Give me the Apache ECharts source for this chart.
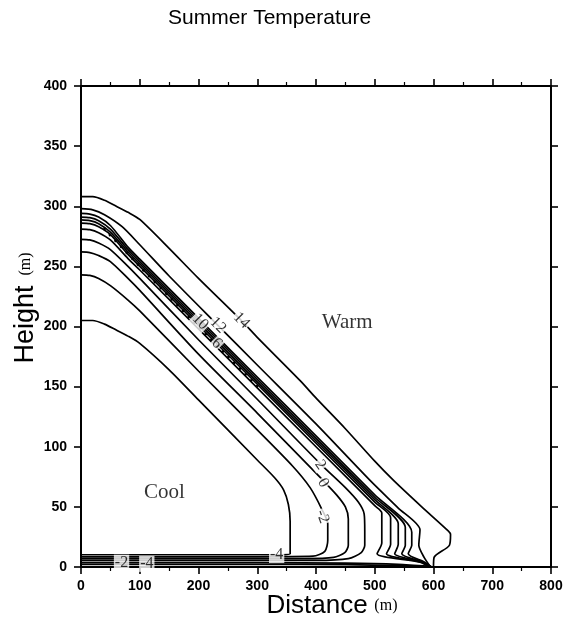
<!DOCTYPE html>
<html><head><meta charset="utf-8">
<script src="https://cdn.jsdelivr.net/npm/echarts@6/dist/echarts.min.js"></script>
<style>html,body{margin:0;padding:0;background:#fff}#c{width:566px;height:630px}</style>
</head><body><div id="c"></div>
<script>
const chartTitle = 'Summer Temperature';
const xTicks = [0, 100, 200, 300, 400, 500, 600, 700, 800];
const yTicks = [0, 50, 100, 150, 200, 250, 300, 350, 400];

// contour lines: [distance (m), height (m)]
const c14 = [[0,308],[20,308],[40,305],[60,300],[80,295],[100,289],[150,265],[200,240],[273,205],[300,191],[373,155],[401,140],[450,115],[500,88],[532,72],[580,50],[625,30],[629,27],[627,18],[601,8],[600,0]];
const c12 = [[0,298],[20,297],[40,293],[70,283],[100,268],[150,242],[233,201],[300,168],[400,119],[492,72],[540,49],[577,31],[575,18],[584,8],[595,0]];
const c10 = [[0,294],[15,293.5],[30,291],[50,284],[80,266],[100,256],[200,207],[300,158],[400,109],[500,60],[563,29],[563,18],[557,11],[585,4],[597,0]];
const c8 = [[0,291],[15,290.5],[30,288],[50,281],[80,264],[100,254],[200,205],[300,156],[400,107],[500,58],[552,33],[552,18],[546,11],[583,4],[596,0]];
const c6 = [[0,288.6],[15,288],[30,285.5],[50,278.5],[80,262],[100,252],[200,203],[300,154],[400,105],[500,56],[540,36],[540,19],[534,11],[581,4],[595,0]];
const c4 = [[0,286],[15,285.5],[30,283],[50,276.5],[80,260],[100,250],[200,201],[300,152],[400,103],[500,54],[527,41],[527,19],[520,11],[579,4],[594,0]];
const c3 = [[0,281],[15,280.5],[30,278],[50,272],[80,256.5],[100,247],[200,198],[300,149],[400,100],[500,51],[512,45],[512,20],[504,11],[577,4],[593,0]];
const c2 = [[0,272.5],[15,272],[30,269.5],[50,264],[80,250],[100,240],[200,189],[300,139.5],[407,86],[450,66],[472,54],[482,44],[483,30],[483,18],[477,12],[455,7],[400,5.5],[300,5.5],[0,5.5]];
const c0 = [[0,262],[15,261.5],[30,259],[50,254],[80,240],[100,230],[200,177],[300,128],[410,73],[435,60],[450,50],[455,40],[455,18],[449,12],[430,8],[380,7],[200,7],[0,7]];
const cm2 = [[0,243],[15,242.5],[30,240],[50,234],[80,222],[100,213],[200,163],[300,114],[360,84],[390,66],[410,48],[420,36],[420,22],[415,13],[395,9],[300,8.5],[0,8.5]];
const cm4 = [[0,205],[20,205],[40,202],[60,197],[80,192],[100,186],[150,164],[200,139],[300,89],[330,74],[345,64],[353,52],[356,38],[356,11],[340,10.2],[0,10.2]];
const surfA = [[0,3.6],[300,3.6],[450,3.2],[540,2.2],[592,0.6]];
const surfB = [[0,2.2],[300,2.2],[450,1.9],[540,1.2],[590,0.4]];
const dotted = [[40,281],[100,250],[150,225],[200,200],[250,175],[300,150]];

// contour labels: [distance, height, text, angle]
const contourLabels = [
  [273, 205, '14', -45], [233, 201, '12', -45], [203, 204, '10', -45], [231, 186, '6', -45],
  [407, 85, '2', -55], [412, 70, '0', -60], [411, 42, '-2', -70],
  [333, 10, '-4', 0], [69, 3.6, '-2', 0], [112, 2.6, '-4', 0]
];
const regionLabels = [[453, 203, 'Warm'], [142, 62, 'Cool']];

const contours = [c14, c12, c10, c8, c6, c4, c3, c2, c0, cm2, cm4, surfA, surfB];

const chart = echarts.init(document.getElementById('c'), null, {renderer: 'canvas'});
const axisCommon = {
  type: 'value',
  axisLine: {show: true, onZero: false, lineStyle: {color: '#000', width: 2}},
  axisTick: {show: true, length: 7, lineStyle: {color: '#000', width: 1.6}},
  splitLine: {show: false}
};
const lbl = {color: '#000', fontWeight: 'bold', fontSize: 14, fontFamily: 'Liberation Sans'};
const series = contours.map(d => ({
  type: 'line', data: d, showSymbol: false, symbol: 'none', smooth: 0.25,
  lineStyle: {color: '#000', width: 1.7}, z: 2, animation: false
}));
series.push({
  type: 'line', data: dotted, showSymbol: false, symbol: 'none', smooth: 0.3,
  lineStyle: {color: '#000', width: 2.8, type: [0.1, 8], cap: 'round'}, z: 3, animation: false
});
series.push({
  type: 'scatter', symbolSize: 0, z: 5, animation: false,
  data: contourLabels.map(l => ({value: [l[0], l[1]], label: {formatter: l[2], rotate: l[3]}})),
  label: {show: true, position: 'inside', color: '#000', fontSize: 16, fontFamily: 'Liberation Serif',
          backgroundColor: '#fff', padding: [0, 1]}
});
series.push({
  type: 'scatter', symbolSize: 0, z: 5, animation: false,
  data: regionLabels.map(l => ({value: [l[0], l[1]], label: {formatter: l[2]}})),
  label: {show: true, position: 'inside', color: '#000', fontSize: 21, fontFamily: 'Liberation Serif'}
});

chart.setOption({
  animation: false,
  backgroundColor: '#fff',
  title: {text: chartTitle, left: 163, top: 3,
          textStyle: {fontSize: 21, fontWeight: 'normal', fontFamily: 'Liberation Sans', color: '#000'}},
  grid: {left: 81, right: 15, top: 86, bottom: 63},
  xAxis: [
    Object.assign({}, axisCommon, {position: 'bottom', min: xTicks[0], max: xTicks[xTicks.length-1], interval: 100,
      minorTick: {show: true, splitNumber: 2, length: 4, lineStyle: {color: '#000', width: 1.2}},
      axisLabel: Object.assign({margin: 12}, lbl)}),
    Object.assign({}, axisCommon, {position: 'top', min: xTicks[0], max: xTicks[xTicks.length-1], interval: 100,
      minorTick: {show: true, splitNumber: 2, length: 4, lineStyle: {color: '#000', width: 1.2}},
      axisLabel: {show: false}})
  ],
  yAxis: [
    Object.assign({}, axisCommon, {position: 'left', min: yTicks[0], max: yTicks[yTicks.length-1], interval: 50,
      axisLabel: Object.assign({margin: 14}, lbl)}),
    Object.assign({}, axisCommon, {position: 'right', min: yTicks[0], max: yTicks[yTicks.length-1], interval: 50,
      axisLabel: {show: false}})
  ],
  graphic: [
    {type: 'text', x: 332, y: 606, style: {
      text: '{a|Distance}  {b|(m)}', align: 'center', verticalAlign: 'middle',
      rich: {a: {fontSize: 26, fontFamily: 'Liberation Sans', fill: '#000'},
             b: {fontSize: 16, fontFamily: 'Liberation Serif', fill: '#000'}}}},
    {type: 'text', x: 26, y: 308, rotation: Math.PI / 2, style: {
      text: '{a|Height}   {b|(m)}', align: 'center', verticalAlign: 'middle',
      rich: {a: {fontSize: 27, fontFamily: 'Liberation Sans', fill: '#000'},
             b: {fontSize: 16, fontFamily: 'Liberation Serif', fill: '#000'}}}}
  ],
  series: series
});
</script></body></html>
